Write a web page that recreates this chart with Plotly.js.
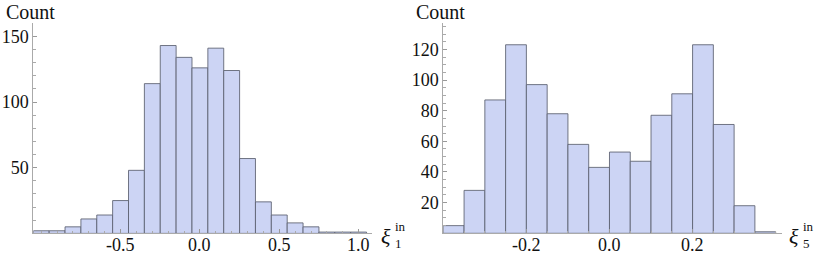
<!DOCTYPE html>
<html>
<head>
<meta charset="utf-8">
<script src="https://cdn.plot.ly/plotly-3.0.1.min.js"></script>
<style>html,body{margin:0;padding:0;background:#fff;}#chart{width:817px;height:255px;}</style>
</head>
<body>
<div id="chart"></div>
<script>
// Left histogram: xi_1^in, bins of width 0.1 centred on these values
var centers1 = [-1.0,-0.9,-0.8,-0.7,-0.6,-0.5,-0.4,-0.3,-0.2,-0.1,0.0,0.1,0.2,0.3,0.4,0.5,0.6,0.7,0.8,0.9,1.0];
var counts1  = [2,2,5,11,14,25,48,114,143,134,126,141,124,57,24,14,8,5,1,1,1];
var binWidth1 = 0.1;

// Right histogram: xi_5^in, bins of width 0.05 centred on these values
var centers5 = [-0.375,-0.325,-0.275,-0.225,-0.175,-0.125,-0.075,-0.025,0.025,0.075,0.125,0.175,0.225,0.275,0.325,0.375];
var counts5  = [5,28,87,123,97,78,58,43,53,47,77,91,123,71,18,1];
var binWidth5 = 0.05;

// Tick labels
var xTickVals1 = [-0.5,0.0,0.5,1.0];
var xTickText1 = ["-0.5","0.0","0.5","1.0"];
var yTickVals1 = [50,100,150];
var yTickText1 = ["50","100","150"];
var xTickVals5 = [-0.2,0.0,0.2];
var xTickText5 = ["-0.2","0.0","0.2"];
var yTickVals5 = [20,40,60,80,100,120];
var yTickText5 = ["20","40","60","80","100","120"];

var fill = 'rgb(204,212,244)';
var edge = 'rgba(90,95,110,0.85)';
function F(size, style){ var f = {family:'Liberation Serif', size:size, color:'#111111'}; if(style){f.style=style;} return f; }

var traces = [
  {type:'bar', x:centers1, y:counts1, width:binWidth1, xaxis:'x', yaxis:'y',
   marker:{color:fill, line:{color:edge, width:1}}, hoverinfo:'x+y'},
  {type:'bar', x:centers5, y:counts5, width:binWidth5, xaxis:'x2', yaxis:'y2',
   marker:{color:fill, line:{color:edge, width:1}}, hoverinfo:'x+y'}
];

function xax(domain, range, tv, minorDt, anchor){
  return {domain:domain, range:range, anchor:anchor, showgrid:false, zeroline:false,
    showline:true, linecolor:'#aaa', linewidth:1, ticks:'inside', ticklen:4, tickcolor:'#999',
    tickmode:'array', tickvals:tv, showticklabels:false, automargin:false, fixedrange:true,
    minor:{dtick:minorDt, ticks:'inside', ticklen:2.5, tickcolor:'#aaa', showgrid:false}};
}
function yax(domain, range, tv, tt, minorDt, anchor){
  return {domain:domain, range:range, anchor:anchor, showgrid:false, zeroline:false,
    showline:true, linecolor:'#aaa', linewidth:1, ticks:'inside', ticklen:4, tickcolor:'#999',
    tickmode:'array', tickvals:tv, ticktext:tt, tickfont:F(18), automargin:false, fixedrange:true,
    minor:{dtick:minorDt, tick0:0, ticks:'inside', ticklen:2.5, tickcolor:'#aaa', showgrid:false}};
}

var W = 817, H = 255;
function px(x){return x/W;}
function py(y){return 1 - y/H;}

function ann(t, x, y, size, style){
  return {text:t, xref:'paper', yref:'paper', x:px(x), y:py(y), xanchor:'left', yanchor:'middle', showarrow:false, font:F(size, style)};
}
function xlabels(vals, texts, xref){
  return vals.map(function(v, i){
    return {text:texts[i], xref:xref, yref:'paper', x:v, y:py(245), xanchor:'center', yanchor:'middle', showarrow:false, font:F(18)};
  });
}

var annotations = [
  ann('Count', 4, 12, 20), ann('Count', 414, 12, 20),
  ann('ξ', 379, 236, 22, 'italic'), ann('in', 393, 226, 13), ann('1', 393, 243, 13),
  ann('ξ', 787, 236, 22, 'italic'), ann('in', 801, 226, 13), ann('5', 801, 243, 13)
].concat(xlabels(xTickVals1, xTickText1, 'x')).concat(xlabels(xTickVals5, xTickText5, 'x2'));

var layout = {
  width:W, height:H, margin:{l:0,r:0,t:0,b:0}, paper_bgcolor:'#fff', plot_bgcolor:'#fff',
  showlegend:false, bargap:0,
  xaxis: xax([px(33.3), px(372.1)], [-1.05, 1.085], xTickVals1, 0.1, 'y'),
  yaxis: yax([py(233.4), py(23.2)], [0, 160], yTickVals1, yTickText1, 10, 'x'),
  xaxis2: xax([px(443.3), px(781.9)], [-0.4, 0.415], xTickVals5, 0.05, 'y2'),
  yaxis2: yax([py(233.3), py(23.3)], [0, 137], yTickVals5, yTickText5, 5, 'x2'),
  annotations: annotations
};

Plotly.newPlot('chart', traces, layout, {displayModeBar:false, staticPlot:true});
</script>
</body>
</html>
